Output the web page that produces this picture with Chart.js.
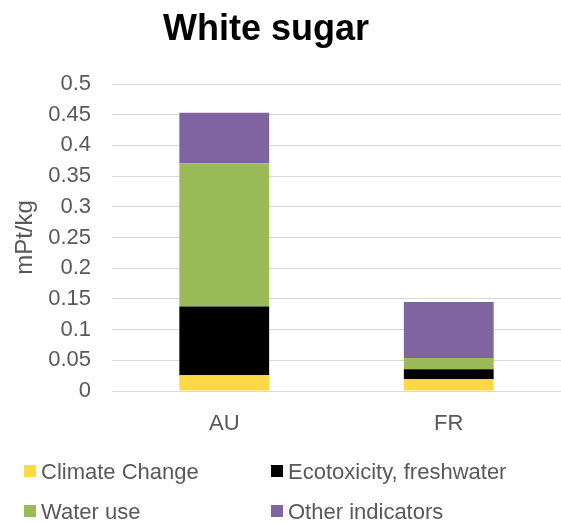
<!DOCTYPE html>
<html>
<head>
<meta charset="utf-8">
<script src="https://cdn.jsdelivr.net/npm/chart.js@4"></script>
<style>
  body { margin: 0; background: #fff; overflow: hidden; }
</style>
</head>
<body>
<canvas id="chart" width="561" height="523"></canvas>
<script>
var categories = ["AU", "FR"];
var climateChange = [0.0256, 0.019];
var ecotoxicity = [0.112, 0.0163];
var waterUse = [0.2335, 0.0185];
var otherIndicators = [0.082, 0.091];
var yTickLabels = ["0", "0.05", "0.1", "0.15", "0.2", "0.25", "0.3", "0.35", "0.4", "0.45", "0.5"];

var textCol = "#595959";
var font = "Liberation Sans, Arial, sans-serif";

// title + 2-column legend drawn by hand, the built-in ones can't place them like this
var extras = {
  id: "extras",
  afterDraw: function (chart) {
    var ctx = chart.ctx;
    ctx.save();
    ctx.fillStyle = "#000";
    ctx.font = "bold 36px " + font;
    ctx.textAlign = "center";
    ctx.textBaseline = "alphabetic";
    ctx.fillText("White sugar", 266, 40);

    var cols = [24, 271];
    var rows = [479, 519];
    ctx.font = "22px " + font;
    ctx.textAlign = "left";
    chart.data.datasets.forEach(function (ds, i) {
      var x = cols[i % 2];
      var y = rows[Math.floor(i / 2)];
      ctx.fillStyle = ds.backgroundColor;
      ctx.fillRect(x, y - 14, 12, 12);
      ctx.fillStyle = textCol;
      ctx.fillText(ds.label, x + 17, y);
    });
    ctx.restore();
  }
};

var ctx = document.getElementById("chart").getContext("2d");
var chart = new Chart(ctx, {
  type: "bar",
  data: {
    labels: categories,
    datasets: [
      { label: "Climate Change", data: climateChange, backgroundColor: "#FFD845" },
      { label: "Ecotoxicity, freshwater", data: ecotoxicity, backgroundColor: "#000000" },
      { label: "Water use", data: waterUse, backgroundColor: "#9BBB59" },
      { label: "Other indicators", data: otherIndicators, backgroundColor: "#8064A2" }
    ]
  },
  options: {
    responsive: false,
    animation: false,
    layout: { padding: { top: 84, right: 0, left: 0, bottom: 0 } },
    datasets: { bar: { categoryPercentage: 1, barPercentage: 0.4 } },
    plugins: {
      legend: { display: false },
      title: { display: false },
      tooltip: { enabled: false }
    },
    scales: {
      x: {
        stacked: true,
        grid: { display: false },
        border: { display: false },
        ticks: { color: textCol, font: { family: font, size: 22 }, padding: 12 },
        afterFit: function (s) { s.height = 132; }
      },
      y: {
        stacked: true,
        min: 0,
        max: 0.5,
        grid: { color: "#D9D9D9", lineWidth: 1, drawTicks: false },
        border: { display: false },
        ticks: {
          stepSize: 0.05,
          color: textCol,
          font: { family: font, size: 22 },
          padding: 21,
          callback: function (v, i) { return yTickLabels[i]; }
        },
        title: {
          display: true,
          text: "mPt/kg",
          color: textCol,
          font: { family: font, size: 24 },
          padding: { top: 11, bottom: 0 }
        },
        afterFit: function (s) { s.width = 112; }
      }
    }
  },
  plugins: [extras]
});
</script>
</body>
</html>
